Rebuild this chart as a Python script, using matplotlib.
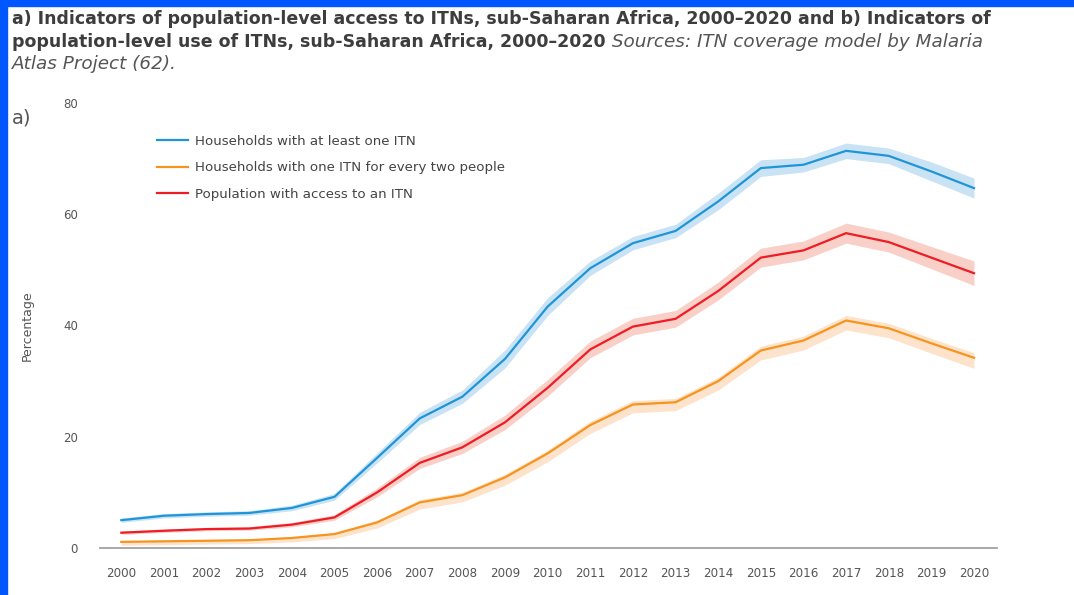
import matplotlib.pyplot as plt
from matplotlib.patches import Rectangle

# --- data ---
years = list(range(2000, 2021))

hh_one_itn = [5.0, 5.8, 6.1, 6.3, 7.2, 9.2, 16.2, 23.3, 27.2, 34.0, 43.4,
              50.3, 54.8, 57.0, 62.3, 68.3, 68.9, 71.4, 70.5, 67.7, 64.7]
hh_one_itn_lo = [4.6, 5.4, 5.7, 5.9, 6.7, 8.6, 15.3, 22.2, 26.0, 32.4, 41.8,
                 49.0, 53.6, 55.8, 60.8, 66.8, 67.6, 70.0, 69.1, 66.0, 62.9]
hh_one_itn_hi = [5.4, 6.2, 6.5, 6.7, 7.7, 9.8, 17.1, 24.4, 28.4, 35.6, 45.0,
                 51.6, 56.0, 58.2, 63.8, 69.8, 70.2, 72.8, 71.9, 69.4, 66.5]

hh_per_two = [1.1, 1.2, 1.3, 1.4, 1.8, 2.5, 4.6, 8.2, 9.5, 12.7, 17.0,
              22.1, 25.8, 26.2, 30.0, 35.5, 37.3, 40.9, 39.5, 36.8, 34.2]
hh_per_two_lo = [0.5, 0.6, 0.7, 0.8, 1.1, 1.7, 3.6, 7.0, 8.3, 11.3, 15.5,
                 20.6, 24.3, 24.7, 28.4, 33.8, 35.6, 39.2, 37.8, 35.0, 32.3]
hh_per_two_hi = [1.3, 1.4, 1.5, 1.6, 2.0, 2.8, 5.0, 8.7, 10.0, 13.3, 17.6,
                 22.8, 26.5, 26.9, 30.7, 36.3, 38.1, 41.8, 40.4, 37.7, 35.1]

pop_access = [2.75, 3.1, 3.4, 3.5, 4.2, 5.5, 10.0, 15.3, 18.1, 22.6, 28.8,
              35.7, 39.8, 41.2, 46.2, 52.2, 53.5, 56.6, 55.0, 52.2, 49.4]
pop_access_lo = [2.45, 2.8, 3.1, 3.2, 3.8, 5.0, 9.2, 14.3, 17.0, 21.3, 27.3,
                 34.2, 38.3, 39.7, 44.6, 50.5, 51.8, 54.8, 53.2, 50.2, 47.2]
pop_access_hi = [3.05, 3.4, 3.7, 3.8, 4.6, 6.0, 10.8, 16.3, 19.2, 23.9, 30.3,
                 37.2, 41.3, 42.7, 47.8, 53.9, 55.2, 58.4, 56.8, 54.2, 51.6]

labels = ["Households with at least one ITN",
          "Households with one ITN for every two people",
          "Population with access to an ITN"]
y_ticks = [0, 20, 40, 60, 80]

plt.rcParams['font.family'] = ['DejaVu Sans']

fig = plt.figure(figsize=(10.74, 5.95), dpi=100)
fig.patch.set_facecolor('white')

# blue frame strips at top and left
fig.patches.append(Rectangle((0, 1 - 6 / 595), 1, 6 / 595, transform=fig.transFigure,
                             color='#0057ff', zorder=0))
fig.patches.append(Rectangle((0, 0), 7 / 1074, 1, transform=fig.transFigure,
                             color='#0057ff', zorder=0))

ax = fig.add_axes([100 / 1074, 1 - 548 / 595, 897 / 1074, 445 / 595])

series = [
    (hh_one_itn, hh_one_itn_lo, hh_one_itn_hi, '#1f95d8', '#c9e3f5'),
    (hh_per_two, hh_per_two_lo, hh_per_two_hi, '#f7941d', '#fde3cb'),
    (pop_access, pop_access_lo, pop_access_hi, '#ee1c25', '#f9d0c8'),
]
for (vals, lo, hi, col, band), lab in zip(series, labels):
    ax.fill_between(years, lo, hi, color=band, lw=0, zorder=1)
    ax.plot(years, vals, color=col, lw=1.6, label=lab, zorder=2)

ax.set_xlim(1999.5, 2020.54)
ax.set_ylim(0, 80)
ax.set_xticks(years)
ax.set_yticks(y_ticks)
for s in ['top', 'right', 'left']:
    ax.spines[s].set_visible(False)
ax.spines['bottom'].set_color('#9a9a9a')
ax.spines['bottom'].set_linewidth(1.2)
ax.tick_params(axis='both', length=0, labelcolor='#555555')
ax.tick_params(axis='x', labelsize=8.6, pad=14)
ax.tick_params(axis='y', labelsize=8.5, pad=16)

ax.set_ylabel('Percentage', fontsize=9, color='#555555', labelpad=21)

leg = ax.legend(loc='upper left', bbox_to_anchor=(0.058, 0.94), frameon=False,
                fontsize=9.6, handlelength=2.3, handletextpad=0.5,
                labelspacing=1.0, borderaxespad=0)
for t in leg.get_texts():
    t.set_color('#444444')

# title block
title_col = '#3d3d3d'
fs_title = 12.5
fs_src = 13.2
fig.text(12 / 1074, 1 - 19 / 595,
         'a) Indicators of population-level access to ITNs, sub-Saharan Africa, '
         '2000\u20132020 and b) Indicators of',
         fontsize=fs_title, fontweight='bold', color=title_col, va='center')
bold2 = fig.text(12 / 1074, 1 - 42 / 595,
                 'population-level use of ITNs, sub-Saharan Africa, 2000\u20132020',
                 fontsize=fs_title, fontweight='bold', color=title_col, va='center')
ax.annotate(' Sources: ITN coverage model by Malaria', xy=(1, 0.5),
            xycoords=bold2, va='center', ha='left', fontsize=fs_src,
            style='italic', color='#555555', annotation_clip=False)
fig.text(12 / 1074, 1 - 64 / 595, 'Atlas Project (62).', fontsize=fs_src,
         style='italic', color='#555555', va='center')

fig.text(12 / 1074, 1 - 118 / 595, 'a)', fontsize=14, color='#555555',
         va='center')

fig.savefig('out.png', dpi=100)
